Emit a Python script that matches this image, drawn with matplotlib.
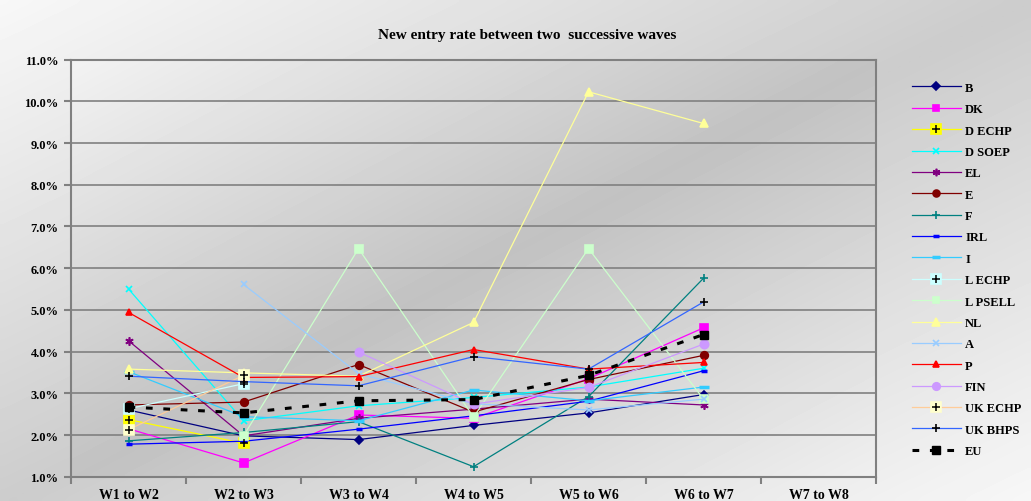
import numpy as np
import matplotlib
matplotlib.use("Agg")
import matplotlib.pyplot as plt
from matplotlib.ticker import FuncFormatter, FixedLocator

nan = np.nan

# ---- data (new entry rate, %) ----
waves = ['W1 to W2', 'W2 to W3', 'W3 to W4', 'W4 to W5', 'W5 to W6', 'W6 to W7', 'W7 to W8']

B       = [2.60, 1.98, 1.89, 2.23, 2.53, 2.97, nan]
DK      = [2.15, 1.33, 2.48, 2.40, 3.35, 4.57, nan]
D_ECHP  = [2.37, 1.80, nan, nan, nan, nan, nan]
D_SOEP  = [5.50, 2.34, 2.70, 2.90, 3.15, 3.60, nan]
EL      = [4.26, 1.98, 2.40, 2.62, 2.86, 2.72, nan]
E       = [2.72, 2.79, 3.69, 2.55, 3.33, 3.91, nan]
F       = [1.86, 2.06, 2.32, 1.24, 2.92, 5.76, nan]
IRL     = [1.78, 1.85, 2.14, 2.46, 2.81, 3.54, nan]
I       = [3.52, 2.44, 2.34, 3.08, 2.82, 3.15, nan]
L_ECHP  = [2.63, 3.23, nan, nan, nan, nan, nan]
L_PSELL = [nan, 1.98, 6.47, 2.43, 6.47, 2.86, nan]
NL      = [3.58, 3.49, 3.41, 4.70, 10.23, 9.47, nan]
A       = [nan, 5.61, 3.47, 2.75, 2.60, 2.86, nan]
P       = [4.94, 3.38, 3.40, 4.05, 3.58, 3.74, nan]
FIN     = [nan, nan, 3.99, 2.74, 3.14, 4.18, nan]
UK_ECHP = [2.13, 3.43, nan, nan, nan, nan, nan]
UK_BHPS = [3.41, 3.28, 3.18, 3.88, 3.58, 5.19, nan]
EU      = [2.67, 2.53, 2.82, 2.85, 3.43, 4.41, nan]

# label, values, line colour, marker, marker colour, marker size, plus-overlay
series = [
    ('B', B, '#000080', 'D', '#000080', 4.5, False),
    ('DK', DK, '#FF00FF', 's', '#FF00FF', 5.5, False),
    ('D ECHP', D_ECHP, '#FFFF00', 's', '#FFFF00', 7.5, True),
    ('D SOEP', D_SOEP, '#00FFFF', 'x', '#00FFFF', 5, False),
    ('EL', EL, '#800080', (6, 2, 0), '#800080', 6, False),
    ('E', E, '#800000', 'o', '#800000', 5.5, False),
    ('F', F, '#008080', '+', '#008080', 6, False),
    ('IRL', IRL, '#0000FF', '_', '#0000FF', 5, False),
    ('I', I, '#33CCFF', '_', '#33CCFF', 7, False),
    ('L ECHP', L_ECHP, '#CCFFFF', 's', '#CCFFFF', 7.5, True),
    ('L PSELL', L_PSELL, '#CCFFCC', 's', '#CCFFCC', 5.5, False),
    ('NL', NL, '#FFFF99', '^', '#FFFF99', 6, False),
    ('A', A, '#99CCFF', 'x', '#99CCFF', 5, False),
    ('P', P, '#FF0000', '^', '#FF0000', 5, False),
    ('FIN', FIN, '#CC99FF', 'o', '#CC99FF', 6, False),
    ('UK ECHP', UK_ECHP, '#FFCC99', 's', '#FFFFCC', 7.5, True),
    ('UK BHPS', UK_BHPS, '#3366FF', '+', '#000000', 6, False),
]

plt.rcParams['font.family'] = ['Liberation Serif', 'DejaVu Serif']
plt.rcParams['font.weight'] = 'bold'


def diag_gradient(w, h, light1, dark, light2):
    yy, xx = np.mgrid[0:h, 0:w]
    s = (xx / w * 0.5 + yy / h * 0.5)
    left = light1 + (dark - light1) * np.clip(s / 0.5, 0, 1)
    right = dark + (light2 - dark) * np.clip((s - 0.5) / 0.5, 0, 1)
    return np.where(s < 0.5, left, right)


fig = plt.figure(figsize=(10.31, 5.02), dpi=100)

# figure background
bg = fig.add_axes([0, 0, 1, 1], zorder=-10)
bg.imshow(diag_gradient(200, 100, 0.97, 0.80, 0.97), cmap='gray', vmin=0, vmax=1,
          aspect='auto', extent=[0, 1, 0, 1], interpolation='bicubic')
bg.set_axis_off()

ax = fig.add_axes([0.0689, 0.0484, 0.7808, 0.8307])
ax.set_facecolor('none')
ax.imshow(diag_gradient(200, 100, 0.95, 0.76, 0.94), cmap='gray', vmin=0, vmax=1,
          aspect='auto', extent=[0, 1, 0, 1], transform=ax.transAxes,
          interpolation='bicubic', zorder=0)

x = np.arange(len(waves))
handles = []
for label, vals, col, mk, mcol, ms, plus in series:
    v = np.array(vals, dtype=float)
    ok = ~np.isnan(v)
    ln, = ax.plot(x[ok], v[ok], color=col, lw=0.9, marker=mk, ms=ms,
                  markerfacecolor=mcol, markeredgecolor=mcol,
                  markeredgewidth=1.2 if mk != '_' else 2.5, zorder=3)
    if plus:
        pl, = ax.plot(x[ok], v[ok], ls='none', marker='+', ms=6, color='black',
                      markeredgewidth=1.1, zorder=4)
        handles.append((ln, pl))
    else:
        handles.append(ln)

v = np.array(EU, dtype=float)
ok = ~np.isnan(v)
eu, = ax.plot(x[ok], v[ok], color='black', lw=2.2, ls=(0, (2.2, 3.5)),
              marker='s', ms=6, zorder=5)
handles.append(eu)
labels = [s[0] for s in series] + ['EU']

ax.set_xlim(-0.5, 6.5)
ax.set_ylim(1.0, 11.0)
ax.yaxis.set_major_locator(FixedLocator(np.arange(1.0, 11.01, 1.0)))
ax.yaxis.set_major_formatter(FuncFormatter(lambda val, pos: '%.1f%%' % val))
ax.grid(axis='y', color='#808080', lw=1.2, zorder=1)
ax.set_axisbelow(True)

ax.xaxis.set_major_locator(FixedLocator(np.arange(-0.5, 6.6, 1.0)))
ax.xaxis.set_major_formatter(FuncFormatter(lambda val, pos: ''))
ax.xaxis.set_minor_locator(FixedLocator(x))
ax.set_xticklabels(waves, minor=True)
ax.tick_params(axis='x', which='major', length=5, width=1.5, color='#808080', direction='out')
ax.tick_params(axis='x', which='minor', length=0, pad=8, labelsize=10)
ax.tick_params(axis='y', length=5, width=1.5, color='#808080', direction='out',
               labelsize=9, pad=4)

for side in ('left', 'right', 'bottom', 'top'):
    ax.spines[side].set_color('#808080')
    ax.spines[side].set_linewidth(1.5)

fig.text(0.511, 0.930, 'New entry rate between two  successive waves',
         ha='center', va='center', fontsize=11)

fig.legend(handles, labels, loc='upper left', bbox_to_anchor=(0.8846, 0.835),
           frameon=False, fontsize=9, handlelength=3.9, handletextpad=0.35,
           labelspacing=0.75, borderpad=0, borderaxespad=0, markerscale=0.9)

fig.savefig('out.png', dpi=100)
